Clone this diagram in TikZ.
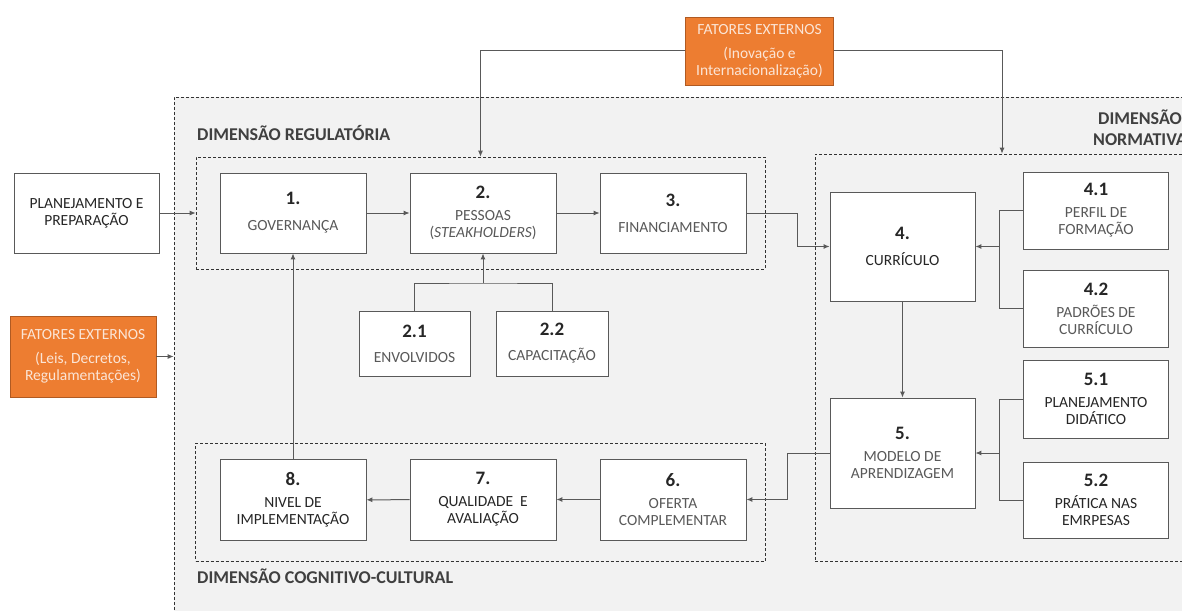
\documentclass[tikz,border=0pt]{standalone}
\usepackage{fontspec}
\setmainfont{Carlito}
\usetikzlibrary{arrows.meta,positioning,calc}

\definecolor{linegray}{HTML}{595959}
\definecolor{txtgray}{HTML}{595959}
\definecolor{txtdark}{HTML}{262626}
\definecolor{headgray}{HTML}{404040}
\definecolor{areagray}{HTML}{F2F2F2}
\definecolor{extorange}{HTML}{ED7D31}
\definecolor{extborder}{HTML}{B05A22}
\definecolor{exttext}{HTML}{FBE5D6}

\newcommand{\boxnum}[1]{{\fontsize{19}{22}\selectfont\bfseries\color{txtdark}#1}}

\tikzstyle{box}=[rectangle, draw=linegray, fill=white, line width=0.8pt, align=center, inner sep=1pt, minimum width=146pt, minimum height=80pt, font=\fontsize{15.5}{17}\selectfont, text=txtgray]
\tikzstyle{dk}=[text=txtdark]
\tikzstyle{ext}=[box, fill=extorange, draw=extborder, text=exttext]
\tikzstyle{group}=[rectangle, draw=black!80, dash pattern=on 3pt off 2pt, line width=0.6pt, inner sep=0]
\tikzstyle{head}=[font=\fontsize{18}{21}\selectfont\bfseries, text=headgray, anchor=west, inner sep=0]
\tikzstyle{line}=[draw=linegray, line width=1pt]
\tikzstyle{conn}=[line, -{Latex[length=6pt,width=5pt]}]

\begin{document}
\begin{tikzpicture}[x=1pt,y=-1pt]

\useasboundingbox (0,0) rectangle (1182,610);
\clip (0,0) rectangle (1182,610);
\fill[white] (0,0) rectangle (1182,610);

% dimensoes
\node[group, fill=areagray, minimum width=1026pt, minimum height=528pt] (outer) at (687,361) {};
\node[group, minimum width=569pt, minimum height=112pt] (reg) at (480.5,213) {};
\node[group, minimum width=569.5pt, minimum height=118pt] (cog) at (480.25,502) {};
\node[group, minimum width=385pt, minimum height=407pt] (norm) at (1007.5,357.5) {};

\node[head] (hreg) at (197,133) {DIMENSÃO REGULATÓRIA};
\node[head] (hcog) at (197,576) {DIMENSÃO COGNITIVO-CULTURAL};
\node[head, anchor=center, align=center] (hnorm) at (1140,128) {DIMENSÃO\\NORMATIVA};

% fatores externos
\node[ext, minimum width=148pt, minimum height=68pt] (extT) at (759.5,51) {FATORES EXTERNOS\\[7pt](Inovação e\\Internacionalização)};
\node[ext, minimum height=81pt] (extL) at (83,356.5) {FATORES EXTERNOS\\[7pt](Leis, Decretos,\\Regulamentações)};
\node[box, dk, minimum width=145pt] (plan) at (86.5,213) {PLANEJAMENTO E\\PREPARAÇÃO};

% regulatoria
\node[box] (b1) at (293,213) {\boxnum{1.}\\[9pt]GOVERNANÇA};
\node[box] (b2) at (483,213) {\boxnum{2.}\\[5pt]PESSOAS\\(\textit{STEAKHOLDERS})};
\node[box] (b3) at (673,213) {\boxnum{3.}\\[9pt]FINANCIAMENTO};
\node[box, minimum width=111pt, minimum height=65pt] (b21) at (414.5,343.5) {\boxnum{2.1}\\[8pt]ENVOLVIDOS};
\node[box, minimum width=112pt, minimum height=65pt] (b22) at (552,343.5) {\boxnum{2.2}\\[8pt]CAPACITAÇÃO};

% normativa
\node[box, dk, minimum width=145pt, minimum height=109pt] (b4) at (902.5,246.5) {\boxnum{4.}\\[9pt]CURRÍCULO};
\node[box, minimum width=145pt, minimum height=77pt] (b41) at (1096,210.5) {\boxnum{4.1}\\[5pt]PERFIL DE\\FORMAÇÃO};
\node[box, minimum width=145pt, minimum height=77pt] (b42) at (1096,308.5) {\boxnum{4.2}\\[5pt]PADRÕES DE\\CURRÍCULO};
\node[box, minimum width=145pt, minimum height=110pt] (b5) at (902.5,453) {\boxnum{5.}\\[5pt]MODELO DE\\APRENDIZAGEM};
\node[box, dk, minimum width=145pt, minimum height=78pt] (b51) at (1096,399) {\boxnum{5.1}\\[5pt]PLANEJAMENTO\\DIDÁTICO};
\node[box, dk, minimum width=145pt, minimum height=76pt] (b52) at (1096,500) {\boxnum{5.2}\\[5pt]PRÁTICA NAS\\EMRPESAS};

% cognitivo-cultural
\node[box, minimum height=81pt] (b6) at (673,499.5) {\boxnum{6.}\\[5pt]OFERTA\\COMPLEMENTAR};
\node[box, dk, minimum height=81pt] (b7) at (483,499.5) {\boxnum{7.}\\[5pt]QUALIDADE~~E\\AVALIAÇÃO};
\node[box, dk, minimum height=81pt] (b8) at (293,500) {\boxnum{8.}\\[5pt]NIVEL DE\\IMPLEMENTAÇÃO};

% ligacoes
\coordinate (j2) at (483,283);
\coordinate (j4) at (999,246.5);
\coordinate (j5) at (999.5,453);

\draw[conn] (extT.west) -| (reg.north);
\draw[conn] (extT.east) -| ([xshift=-5.5pt]norm.north);
\draw[conn] (plan.east) -- (reg.west);
\draw[conn] (extL.east) -- (extL.east -| outer.west);
\draw[conn] (b1) -- (b2);
\draw[conn] (b2) -- (b3);
\draw[conn] (b3.east) -- ++(51,0) |- (b4.west);
\draw[line] (b21.north) |- (j2) -| (b22.north);
\draw[conn] (j2) -- (b2.south);
\draw[line] (b41.west) -| (j4) |- (b42.west);
\draw[conn] (j4) -- (b4.east);
\draw[line] (b51.west) -| (j5) |- (b52.west);
\draw[conn] (j5) -- (b5.east);
\draw[conn] (b4.south) -- (b5.north);
\draw[conn] (b5.west) -- ++(-42,0) |- (b6.east);
\draw[conn] (b6) -- (b7);
\draw[conn] (b7) -- (b8);
\draw[conn] (b8.north) -- (b1.south);

\end{tikzpicture}
\end{document}
